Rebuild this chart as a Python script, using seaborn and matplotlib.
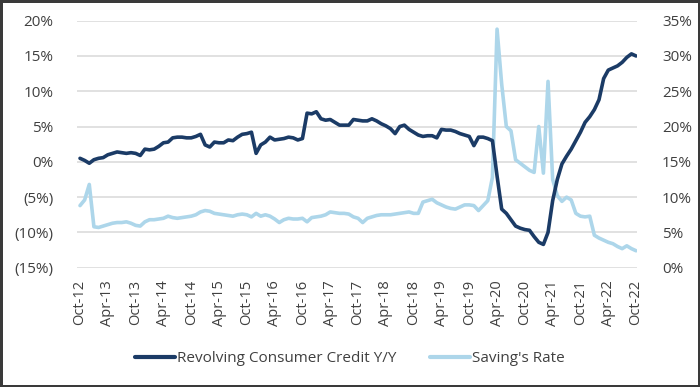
import matplotlib
matplotlib.use("Agg")
import matplotlib.pyplot as plt
import seaborn as sns
import pandas as pd
import numpy as np
from matplotlib.ticker import FuncFormatter, FixedLocator

# ---------------- data ----------------
start_month = "2012-10"
n_months = 121

credit_yoy = [
    0.5, 0.2, -0.2, 0.3, 0.5, 0.6, 1.0, 1.2, 1.4, 1.3, 1.2, 1.3,
    1.2, 0.9, 1.8, 1.7, 1.8, 2.2, 2.7, 2.8, 3.4, 3.5, 3.5, 3.4,
    3.4, 3.6, 3.9, 2.4, 2.1, 2.8, 2.7, 2.7, 3.1, 3.0, 3.5, 3.9,
    4.0, 4.2, 1.2, 2.4, 2.8, 3.5, 3.1, 3.2, 3.3, 3.5, 3.4, 3.1,
    3.3, 6.9, 6.8, 7.1, 6.1, 5.9, 6.0, 5.6, 5.2, 5.2, 5.2, 6.0,
    5.9, 5.8, 5.8, 6.1, 5.8, 5.4, 5.1, 4.7, 4.0, 5.0, 5.2, 4.6,
    4.2, 3.8, 3.6, 3.7, 3.7, 3.4, 4.6, 4.5, 4.5, 4.3, 4.0, 3.8,
    3.6, 2.3, 3.5, 3.5, 3.3, 3.0, -2.0, -6.7, -7.3, -8.2, -9.1, -9.4,
    -9.6, -9.7, -10.6, -11.4, -11.7, -10.0, -5.5, -2.5, -0.3, 0.8, 1.8, 3.0,
    4.2, 5.6, 6.4, 7.4, 8.8, 11.8, 13.0, 13.3, 13.6, 14.1, 14.8, 15.3,
    15.0,
]

saving_rate = [
    8.8, 9.6, 11.8, 5.8, 5.7, 5.9, 6.1, 6.3, 6.4, 6.4, 6.5, 6.3,
    6.0, 5.9, 6.5, 6.8, 6.8, 6.9, 7.0, 7.3, 7.1, 7.0, 7.1, 7.2,
    7.3, 7.5, 7.9, 8.1, 8.0, 7.7, 7.6, 7.5, 7.4, 7.3, 7.5, 7.6,
    7.5, 7.2, 7.7, 7.3, 7.5, 7.3, 6.9, 6.4, 6.8, 7.0, 6.9, 6.9,
    7.0, 6.5, 7.1, 7.2, 7.3, 7.5, 7.9, 7.8, 7.7, 7.7, 7.6, 7.2,
    7.0, 6.4, 7.0, 7.2, 7.4, 7.5, 7.5, 7.5, 7.6, 7.7, 7.8, 7.9,
    7.7, 7.7, 9.3, 9.5, 9.7, 9.2, 8.9, 8.6, 8.4, 8.3, 8.6, 8.9,
    8.9, 8.8, 8.1, 8.8, 9.5, 12.8, 33.8, 26.0, 20.0, 19.4, 15.3, 14.8,
    14.3, 13.8, 13.5, 20.0, 13.4, 26.4, 12.5, 10.2, 9.4, 10.0, 9.6, 7.7,
    7.3, 7.2, 7.3, 4.6, 4.2, 3.9, 3.6, 3.4, 3.0, 2.7, 3.1, 2.7,
    2.4,
]

series_names = ["Revolving Consumer Credit Y/Y", "Saving's Rate"]
left_ticks = [20, 15, 10, 5, 0, -5, -10, -15]
right_ticks = [35, 30, 25, 20, 15, 10, 5, 0]

dates = pd.date_range(start_month, periods=n_months, freq="MS")
month_labels = [d.strftime("%b-%y") for d in dates]

df = pd.DataFrame({
    "idx": np.arange(n_months),
    "credit": credit_yoy,
    "saving": saving_rate,
})

# ---------------- style ----------------
sns.set_theme(style="white")
plt.rcParams["font.family"] = ["Open Sans", "DejaVu Sans"]

dark = "#1b3b66"
light = "#add6ea"
text_col = "#404040"

fig = plt.figure(figsize=(7.0, 3.87), dpi=100, linewidth=2.5, edgecolor="#3a3a3a")
ax = fig.add_axes([77 / 700, 1 - 267.7 / 387, 560 / 700, (267.7 - 20.7) / 387])
ax2 = ax.twinx()

sns.lineplot(data=df, x="idx", y="credit", ax=ax, color=dark, linewidth=2.6,
             label=series_names[0], legend=False, zorder=3)
sns.lineplot(data=df, x="idx", y="saving", ax=ax2, color=light, linewidth=2.6,
             label=series_names[1], legend=False, zorder=2)

# Put dark line above light line
ax.set_zorder(ax2.get_zorder() + 1)
ax.patch.set_visible(False)

ax.set_xlim(-0.65, 120.2)
ax.set_ylim(-15, 20)
ax2.set_ylim(0, 35)

def left_fmt(v, pos):
    v = int(round(v))
    return f"({abs(v)}%)" if v < 0 else f"{v}%"

ax.yaxis.set_major_locator(FixedLocator(left_ticks))
ax.yaxis.set_major_formatter(FuncFormatter(left_fmt))
ax2.yaxis.set_major_locator(FixedLocator(right_ticks))
ax2.yaxis.set_major_formatter(FuncFormatter(lambda v, p: f"{int(round(v))}%"))

xt = list(range(0, n_months, 6))
ax.set_xticks(xt)
ax.set_xticklabels([month_labels[i] for i in xt], rotation=90)

ax.grid(False)
ax2.grid(False)
for v in left_ticks:
    ax2.axhline((v + 15), color="#d9d9d9", linewidth=1.1, zorder=0)

for a in (ax, ax2):
    for s in a.spines.values():
        s.set_visible(False)
    a.set_xlabel("")
    a.set_ylabel("")

ax.tick_params(axis="y", length=0, pad=17, labelsize=11, labelcolor=text_col)
ax2.tick_params(axis="y", length=0, pad=18, labelsize=11, labelcolor=text_col)
ax.tick_params(axis="x", length=0, pad=9, labelsize=10.5, labelcolor=text_col)

handles = [plt.Line2D([], [], color=dark, linewidth=3),
           plt.Line2D([], [], color=light, linewidth=3)]
fig.legend(handles, series_names, loc="center", bbox_to_anchor=(0.5, 1 - 359 / 387),
           ncol=2, frameon=False, fontsize=11, handlelength=2.6, handletextpad=0.15,
           columnspacing=2.2, labelcolor=text_col)

fig.savefig("out.png", dpi=100, edgecolor=fig.get_edgecolor())
